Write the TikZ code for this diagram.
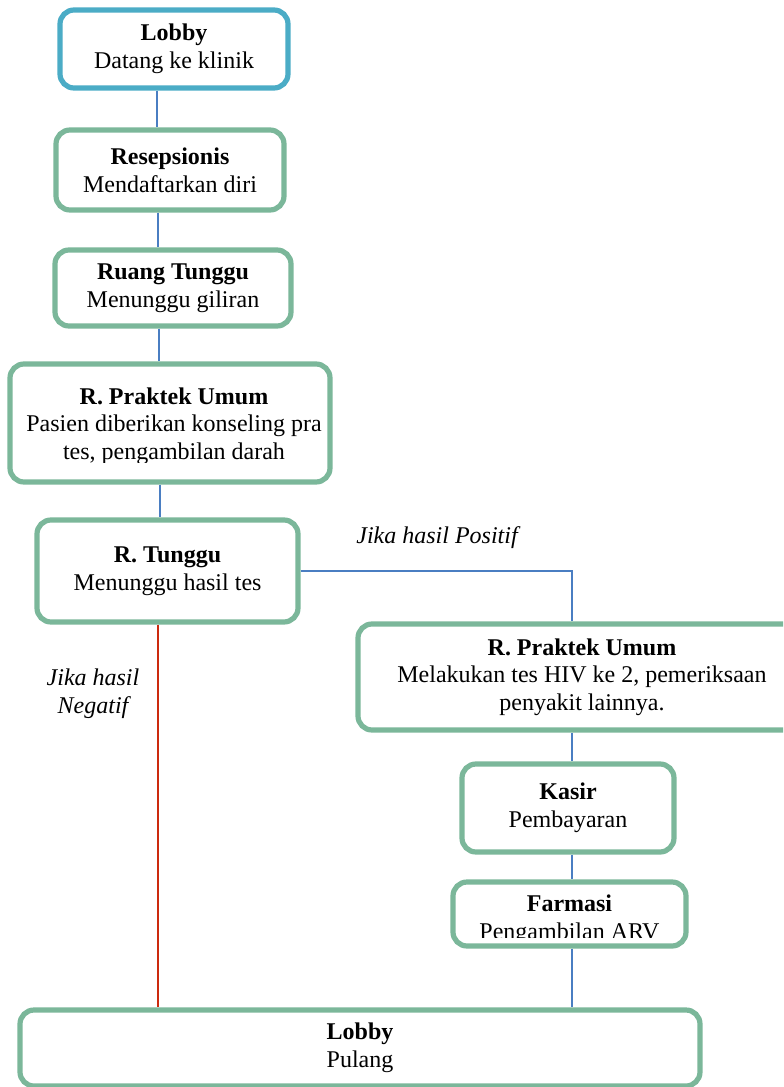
\documentclass[tikz,border=0pt]{standalone}
\usepackage{fontspec}
\setmainfont{Liberation Serif}[Ligatures=TeX]
\newfontfamily\tnr{Liberation Serif}
\definecolor{boxblue}{HTML}{4BACC6}
\definecolor{boxgreen}{HTML}{7BB79A}
\definecolor{linkblue}{HTML}{4A7EC2}
\definecolor{linkred}{HTML}{CC2A0E}
\begin{document}
\begin{tikzpicture}[x=0.5pt,y=-0.5pt,
  box/.style={draw=boxgreen,line width=2.6pt,rounded corners=7pt,fill=white,align=center,inner sep=0pt,
    font=\tnr\fontsize{12}{13.8}\selectfont},
  bluebox/.style={box,draw=boxblue},
  txt/.style={align=center,inner sep=0pt,font=\tnr\fontsize{12}{13.8}\selectfont},
  lbl/.style={align=center,inner sep=0pt,font=\tnr\fontsize{12}{13.8}\selectfont\itshape},
  conn/.style={draw=linkblue,line width=1pt},
  negconn/.style={draw=linkred,line width=1pt}]
\useasboundingbox (0,0) rectangle (783,1087);
\clip (0,0) rectangle (783,1087);
\coordinate (k1) at (157,0);
\coordinate (k2) at (158,0);
\coordinate (k3) at (159,0);
\coordinate (k4) at (160,0);
\coordinate (kr) at (572,0);
% boxes
\node[bluebox,minimum width=114pt,minimum height=39pt] (b1) at (174,49) {\textbf{Lobby}\\Datang ke klinik};
\node[box,minimum width=114pt,minimum height=40pt] (b2) at (170,170) {\textbf{Resepsionis}\\Mendaftarkan diri};
\node[box,minimum width=118pt,minimum height=38pt] (b3) at (173,288) {\textbf{Ruang Tunggu}\\Menunggu giliran};
\node[box,minimum width=160pt,minimum height=59pt] (b4) at (170,423) {};
\begin{scope}
\clip (10,364) rectangle (330,462);
\node[txt] (t4) at (174,426) {\textbf{R. Praktek Umum}\\Pasien diberikan konseling pra\\tes, pengambilan darah};
\end{scope}
\node[box,minimum width=130.5pt,minimum height=51pt] (b5) at (167.5,571) {\textbf{R. Tunggu}\\Menunggu hasil tes};
\node[box,minimum width=224pt,minimum height=53pt] (b6) at (582,677) {\textbf{R. Praktek Umum}\\Melakukan tes HIV ke 2, pemeriksaan\\penyakit lainnya.};
\node[box,minimum width=106pt,minimum height=44pt] (b7) at (568,808) {\textbf{Kasir}\\Pembayaran};
\node[box,minimum width=116.5pt,minimum height=32pt] (b8) at (569.5,914) {};
\begin{scope}
\clip (453,882) rectangle (686,937);
\node[txt] (t8) at (569.5,920) {\textbf{Farmasi}\\Pengambilan ARV};
\end{scope}
\node[box,minimum width=340pt,minimum height=38pt] (b9) at (360,1048) {\textbf{Lobby}\\Pulang};
% connectors
\draw[conn] (k1 |- b1.south) -- (k1 |- b2.north);
\draw[conn] (k2 |- b2.south) -- (k2 |- b3.north);
\draw[conn] (k3 |- b3.south) -- (k3 |- b4.north);
\draw[conn] (k4 |- b4.south) -- (k4 |- b5.north);
\draw[conn] (b5.east) -| (kr |- b6.north);
\draw[conn] (kr |- b6.south) -- (kr |- b7.north);
\draw[conn] (kr |- b7.south) -- (kr |- b8.north);
\draw[conn] (kr |- b8.south) -- (kr |- b9.north);
\draw[negconn] (k2 |- b5.south) -- (k2 |- b9.north);
% labels
\node[lbl] (lp) at (437,538) {Jika hasil Positif};
\node[lbl] (ln) at (93,694) {Jika hasil\\Negatif};
\end{tikzpicture}
\end{document}
